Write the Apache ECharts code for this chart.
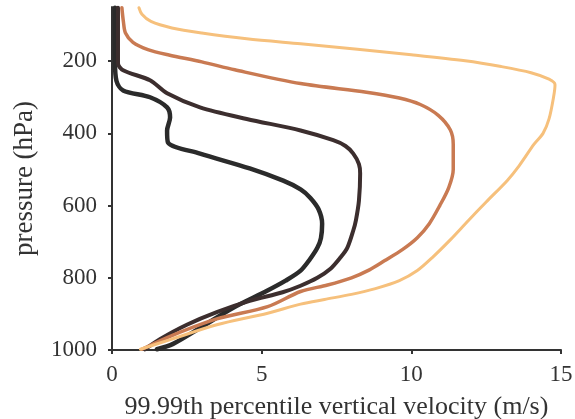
<!DOCTYPE html>
<html>
<head>
<meta charset="utf-8">
<script src="https://cdn.jsdelivr.net/npm/echarts@6/dist/echarts.min.js"></script>
<style>
  html, body { margin: 0; padding: 0; background: #fff; }
  #chart { width: 575px; height: 419px; }
</style>
</head>
<body>
<div id="chart"></div>
<script>
// Vertical profiles of 99.99th percentile vertical velocity (m/s) against pressure (hPa).
// Each profile is stored as a velocity list and a matching pressure list.
const blackVel = [0.1, 0.1, 0.15, 0.37, 1.27, 1.84, 1.94, 1.84, 1.87, 2.94, 4.6, 5.72, 6.3, 6.62, 6.9, 7.02, 6.98, 6.86, 6.6, 6.29, 5.8, 5.18, 4.05, 2.94, 2.04, 1.5];
const blackP   = [52, 200, 255, 281, 300, 328, 356, 392, 425, 456, 497, 531, 555, 578, 610, 650, 690, 717, 750, 781, 808, 836, 883, 939, 983, 998];

const brownVel = [0.2, 0.2, 0.2, 0.37, 1.27, 1.84, 2.94, 4.5, 6.3, 7.39, 7.8, 8.06, 8.25, 8.29, 8.25, 8.15, 8.06, 7.86, 7.63, 7.3, 6.86, 6.3, 5.7, 4.6, 3.5, 2.5, 1.6, 1.1];
const brownP   = [52, 150, 206, 225, 253, 289, 328, 360, 392, 419, 435, 456, 485, 511, 586, 640, 669, 717, 744, 775, 800, 822, 840, 864, 895, 930, 970, 998];

const rustVel = [0.33, 0.38, 0.45, 0.7, 1.2, 1.9, 3.0, 4.1, 6.3, 8.5, 9.6, 10.3, 10.9, 11.3, 11.4, 11.4, 11.25, 10.95, 10.6, 10.2, 9.7, 9.1, 8.6, 8.0, 7.2, 6.3, 5.2, 3.5, 2.0, 1.0];
const rustP   = [52, 90, 122, 148, 168, 183, 202, 224, 262, 286, 302, 320, 350, 390, 430, 500, 550, 600, 650, 689, 722, 753, 778, 800, 820, 838, 880, 914, 960, 998];

const goldVel = [0.9, 1.0, 1.3, 2.0, 3.0, 4.5, 6.3, 8.2, 10.0, 11.8, 13.0, 14.0, 14.6, 14.8, 14.75, 14.6, 14.4, 14.1, 13.6, 13.2, 12.5, 11.9, 11.3, 10.7, 10.2, 9.6, 8.8, 8.0, 7.1, 6.3, 5.2, 3.5, 2.0, 0.95];
const goldP   = [52, 70, 90, 108, 122, 138, 152, 167, 182, 199, 215, 232, 250, 265, 300, 360, 400, 430, 490, 531, 590, 642, 695, 744, 780, 808, 830, 846, 860, 873, 898, 930, 970, 998];

const xTicks = [0, 5, 10, 15];
const yTicks = [200, 400, 600, 800, 1000];

function pairs(vel, p) {
  return vel.map((v, i) => [v, p[i]]);
}

const serif = '"Liberation Serif", "DejaVu Serif", serif';

function profile(name, vel, p, color, width) {
  return {
    name: name,
    type: 'line',
    data: pairs(vel, p),
    showSymbol: false,
    smooth: 0.3,
    lineStyle: { color: color, width: width, cap: 'round', join: 'round' },
    emphasis: { disabled: true }
  };
}

const chart = echarts.init(document.getElementById('chart'));
chart.setOption({
  animation: false,
  backgroundColor: '#ffffff',
  grid: { left: 112, right: 14, top: 7, bottom: 69, containLabel: false, outerBoundsMode: 'none' },
  xAxis: {
    type: 'value',
    min: 0,
    max: 15,
    interval: 5,
    name: '99.99th percentile vertical velocity (m/s)',
    nameLocation: 'middle',
    nameGap: 44,
    nameTextStyle: { fontFamily: serif, fontSize: 26, color: '#333' },
    axisLine: { show: true, lineStyle: { color: '#333', width: 2 } },
    axisTick: { show: true, inside: false, length: 4, lineStyle: { color: '#333', width: 2 } },
    axisLabel: { fontFamily: serif, fontSize: 23, color: '#333', margin: 13, customValues: xTicks },
    splitLine: { show: false }
  },
  yAxis: {
    type: 'value',
    inverse: true,
    min: 50,
    max: 1000,
    name: 'pressure (hPa)',
    nameLocation: 'middle',
    nameGap: 74,
    nameTextStyle: { fontFamily: serif, fontSize: 27, color: '#333' },
    axisLine: { show: true, lineStyle: { color: '#333', width: 2 } },
    axisTick: { show: true, inside: false, length: 4, lineStyle: { color: '#333', width: 2 }, customValues: yTicks },
    axisLabel: {
      fontFamily: serif, fontSize: 23, color: '#333', margin: 15, customValues: yTicks,
      formatter: v => String(v)
    },
    splitLine: { show: false }
  },
  series: [
    profile('black', blackVel, blackP, '#2b2b2b', 4.5),
    profile('brown', brownVel, brownP, '#3c2e2e', 4),
    profile('rust', rustVel, rustP, '#c97a52', 3.5),
    profile('gold', goldVel, goldP, '#f6c07c', 3)
  ]
});
</script>
</body>
</html>
